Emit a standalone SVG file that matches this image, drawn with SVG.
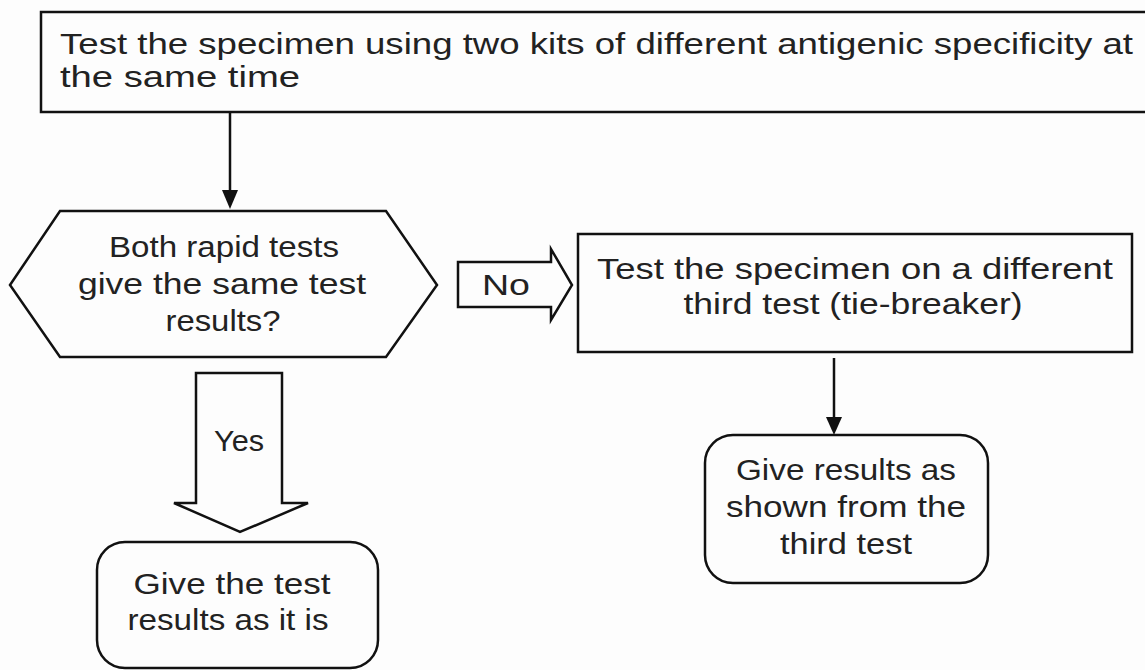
<svg xmlns="http://www.w3.org/2000/svg" width="1145" height="670" viewBox="0 0 1145 670">
<defs>
<style>
.box{fill:#fdfdfd;stroke:#111;stroke-width:2.5}
.t{font-family:"Liberation Sans",Arial,sans-serif;font-size:29px;fill:#222}
.c{text-anchor:middle}
.ln{stroke:#111;stroke-width:2.5;fill:none}
</style>
</defs>
<rect width="1145" height="670" fill="#fdfdfd"/>
<g id="connectors">
<line class="ln" x1="230" y1="112" x2="230" y2="190"/>
<path d="M222,190 L238,190 L230,209 z" fill="#111"/>
<line class="ln" x1="834" y1="358" x2="834" y2="417"/>
<path d="M826,417 L842,417 L834,435 z" fill="#111"/>
<g id="no-arrow">
<polygon class="box" points="458,262 551,262 551,249 572,285 551,320 551,307 458,307"/>
<text class="t" x="506" y="295" text-anchor="middle" textLength="48" lengthAdjust="spacingAndGlyphs">No</text>
</g>
<g id="yes-arrow">
<polygon class="box" points="196,373 282,373 282,503 308,503 240,532 174,503 196,503"/>
<text class="t" x="239" y="451" text-anchor="middle" textLength="50" lengthAdjust="spacingAndGlyphs">Yes</text>
</g>
</g>
<g id="start">
<rect class="box" x="41" y="12" width="1120" height="100"/>
<text class="t" x="60" y="54" textLength="1073" lengthAdjust="spacingAndGlyphs">Test the specimen using two kits of different antigenic specificity at</text>
<text class="t" x="60" y="87" textLength="240" lengthAdjust="spacingAndGlyphs">the same time</text>
</g>
<g id="decision">
<polygon class="box" points="10,285 60,211 386,211 437,285 386,357 60,357"/>
<text class="t c" x="224" y="257" textLength="230" lengthAdjust="spacingAndGlyphs">Both rapid tests</text>
<text class="t c" x="222" y="294" textLength="288" lengthAdjust="spacingAndGlyphs">give the same test</text>
<text class="t c" x="223" y="331" textLength="115" lengthAdjust="spacingAndGlyphs">results?</text>
</g>
<g id="tiebreaker">
<rect class="box" x="578" y="234" width="554" height="118"/>
<text class="t c" x="855" y="279" textLength="516" lengthAdjust="spacingAndGlyphs">Test the specimen on a different</text>
<text class="t c" x="853" y="314" textLength="339" lengthAdjust="spacingAndGlyphs">third test (tie-breaker)</text>
</g>
<g id="result-same">
<rect class="box" x="97" y="542" width="281" height="126" rx="28"/>
<text class="t c" x="232" y="594" textLength="197" lengthAdjust="spacingAndGlyphs">Give the test</text>
<text class="t c" x="228" y="630" textLength="201" lengthAdjust="spacingAndGlyphs">results as it is</text>
</g>
<g id="result-third">
<rect class="box" x="705" y="435" width="283" height="148" rx="28"/>
<text class="t c" x="846" y="480" textLength="220" lengthAdjust="spacingAndGlyphs">Give results as</text>
<text class="t c" x="846" y="517" textLength="240" lengthAdjust="spacingAndGlyphs">shown from the</text>
<text class="t c" x="846" y="554" textLength="132" lengthAdjust="spacingAndGlyphs">third test</text>
</g>
</svg>
